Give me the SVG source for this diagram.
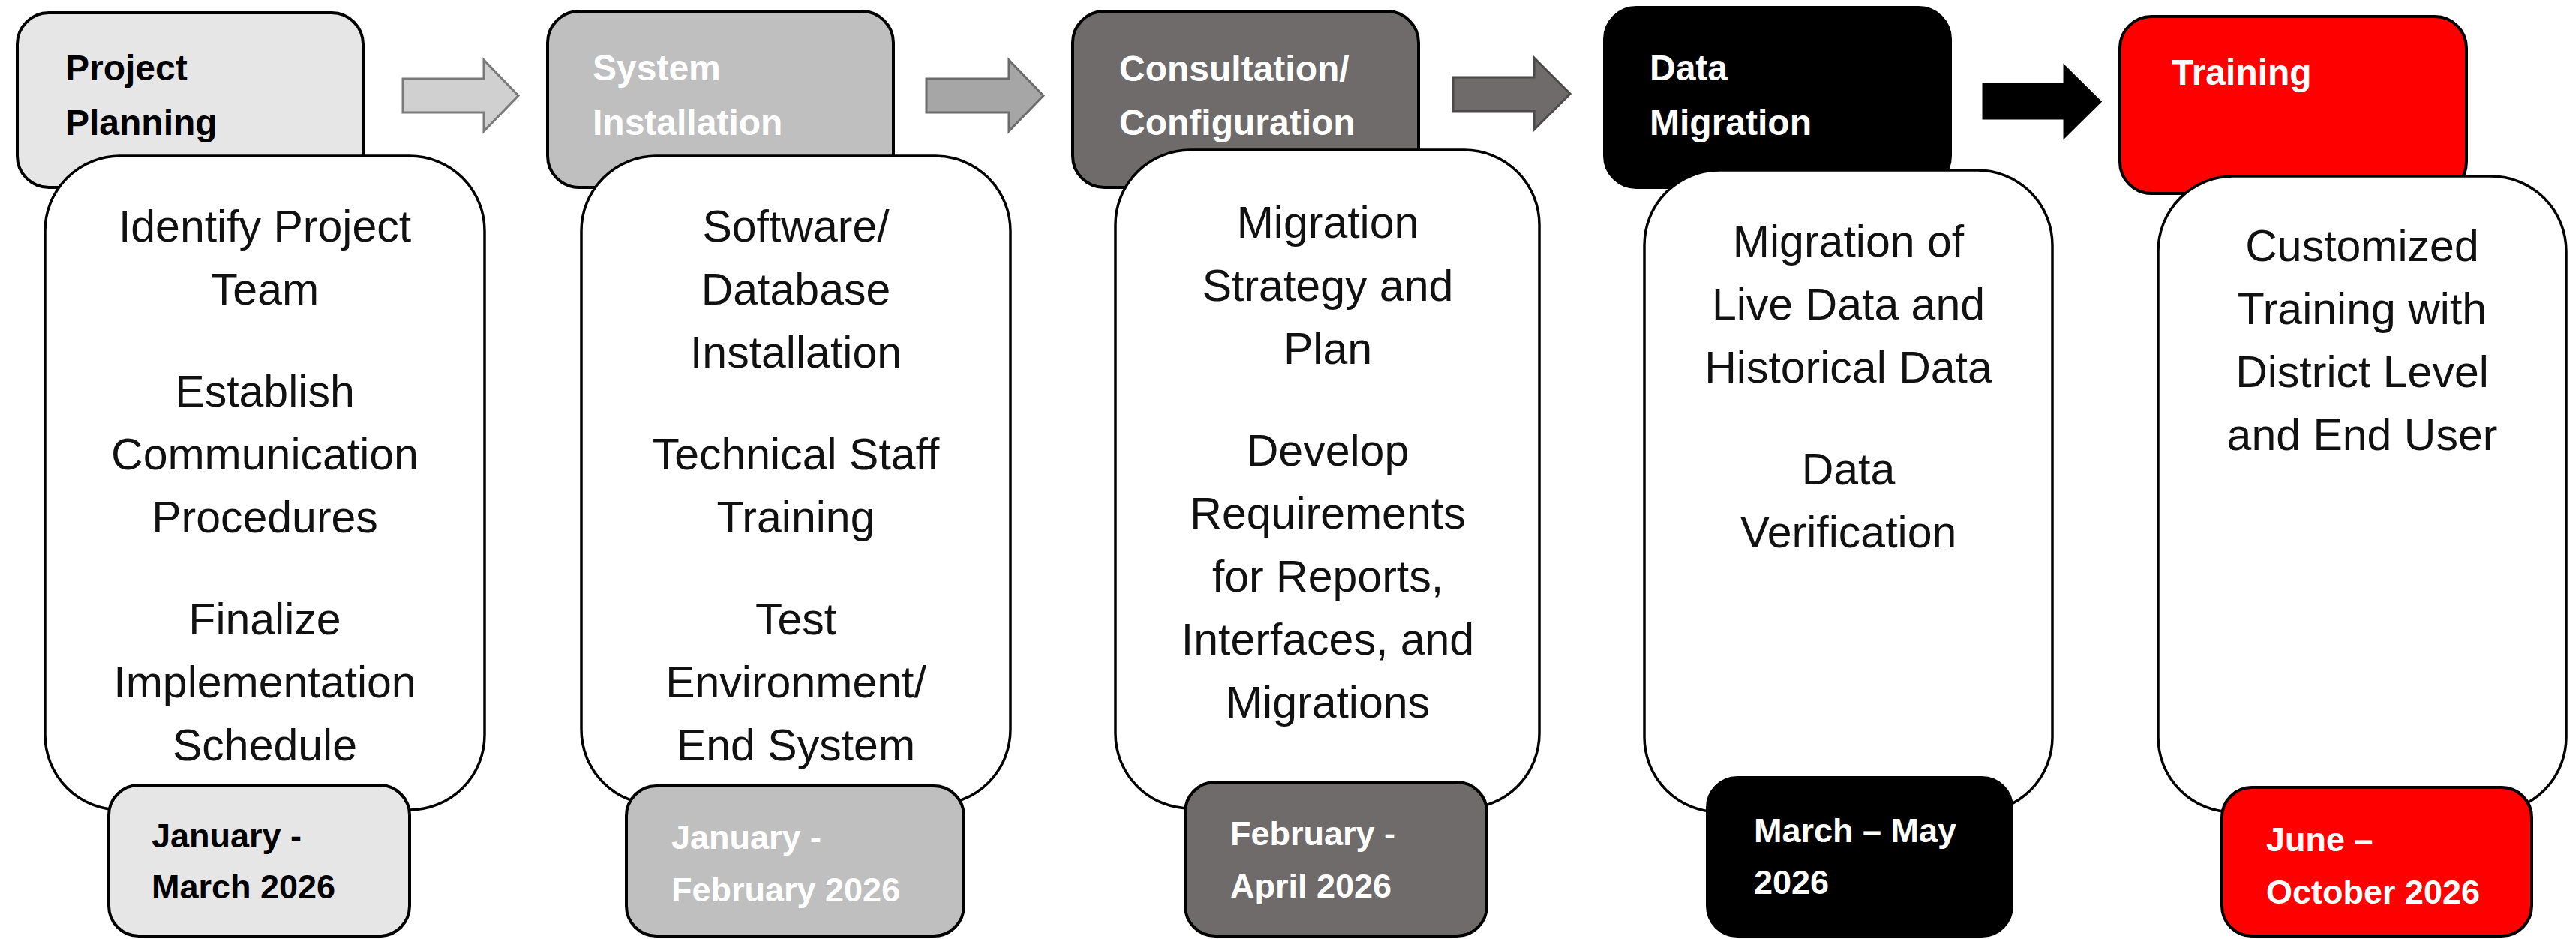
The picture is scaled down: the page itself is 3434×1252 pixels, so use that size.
<svg xmlns="http://www.w3.org/2000/svg" width="3434" height="1252" viewBox="0 0 3434 1252">
<style>
.hdr{stroke:#000;stroke-width:4}
.card{fill:#fff;stroke:#000;stroke-width:3.5}
.date{stroke:#000;stroke-width:4}
.ht{font-family:"Liberation Sans",Arial,sans-serif;font-weight:bold;font-size:48px}
.dt{font-family:"Liberation Sans",Arial,sans-serif;font-weight:bold;font-size:45px}
.bt{font-family:"Liberation Sans",Arial,sans-serif;font-size:59px;fill:#111;text-anchor:middle}
.w{fill:#fff}
.k{fill:#000}
.arr{stroke-width:3;stroke-linejoin:miter}
</style>
<rect width="3434" height="1252" fill="#fff"/>
<g id="connectors">
<polygon class="arr" fill="#d0d0d0" stroke="#7a7a7a" points="537,105 645,105 645,80 691,127.5 645,175 645,150 537,150"/>
<polygon class="arr" fill="#a6a6a6" stroke="#6b6b6b" points="1235,105 1345,105 1345,80 1391,127.5 1345,175 1345,150 1235,150"/>
<polygon class="arr" fill="#6f6b6b" stroke="#4a4a4a" points="1937,103 2045,103 2045,77 2093,125 2045,173 2045,148 1937,148"/>
<polygon class="arr" fill="#000" stroke="#000" points="2644,112 2752,112 2752,88 2800,135.5 2752,183 2752,158 2644,158"/>
</g>
<g id="node1">
<rect class="hdr" x="23" y="17" width="461" height="233" rx="42" fill="#e6e6e6"/>
<text class="ht k" x="87" y="107">Project</text>
<text class="ht k" x="87" y="180">Planning</text>
<rect class="card" x="60" y="208" width="586" height="872" rx="100"/>
<text class="bt" x="353" y="322">Identify Project</text>
<text class="bt" x="353" y="406">Team</text>
<text class="bt" x="353" y="542">Establish</text>
<text class="bt" x="353" y="626">Communication</text>
<text class="bt" x="353" y="710">Procedures</text>
<text class="bt" x="353" y="846">Finalize</text>
<text class="bt" x="353" y="930">Implementation</text>
<text class="bt" x="353" y="1014">Schedule</text>
<rect class="date" x="145" y="1047" width="401" height="201" rx="40" fill="#e6e6e6"/>
<text class="dt k" x="202" y="1130">January -</text>
<text class="dt k" x="202" y="1198">March 2026</text>
</g>
<g id="node2">
<rect class="hdr" x="730" y="15" width="461" height="235" rx="42" fill="#bfbfbf"/>
<text class="ht w" x="790" y="107">System</text>
<text class="ht w" x="790" y="180">Installation</text>
<rect class="card" x="775" y="208" width="572" height="865" rx="100"/>
<text class="bt" x="1061" y="322">Software/</text>
<text class="bt" x="1061" y="406">Database</text>
<text class="bt" x="1061" y="490">Installation</text>
<text class="bt" x="1061" y="626">Technical Staff</text>
<text class="bt" x="1061" y="710">Training</text>
<text class="bt" x="1061" y="846">Test</text>
<text class="bt" x="1061" y="930">Environment/</text>
<text class="bt" x="1061" y="1014">End System</text>
<rect class="date" x="835" y="1048" width="450" height="200" rx="40" fill="#bfbfbf"/>
<text class="dt w" x="895" y="1132">January -</text>
<text class="dt w" x="895" y="1202">February 2026</text>
</g>
<g id="node3">
<rect class="hdr" x="1430" y="15" width="461" height="235" rx="42" fill="#6f6b6b"/>
<text class="ht w" x="1492" y="108">Consultation/</text>
<text class="ht w" x="1492" y="180">Configuration</text>
<rect class="card" x="1487" y="200" width="565" height="878" rx="100"/>
<text class="bt" x="1770" y="317">Migration</text>
<text class="bt" x="1770" y="401">Strategy and</text>
<text class="bt" x="1770" y="485">Plan</text>
<text class="bt" x="1770" y="621">Develop</text>
<text class="bt" x="1770" y="705">Requirements</text>
<text class="bt" x="1770" y="789">for Reports,</text>
<text class="bt" x="1770" y="873">Interfaces, and</text>
<text class="bt" x="1770" y="957">Migrations</text>
<rect class="date" x="1580" y="1043" width="402" height="205" rx="40" fill="#6f6b6b"/>
<text class="dt w" x="1640" y="1127">February -</text>
<text class="dt w" x="1640" y="1197">April 2026</text>
</g>
<g id="node4">
<rect class="hdr" x="2139" y="10" width="461" height="240" rx="42" fill="#000"/>
<text class="ht w" x="2199" y="107">Data</text>
<text class="ht w" x="2199" y="180">Migration</text>
<rect class="card" x="2192" y="227" width="544" height="856" rx="100"/>
<text class="bt" x="2464" y="342">Migration of</text>
<text class="bt" x="2464" y="426">Live Data and</text>
<text class="bt" x="2464" y="510">Historical Data</text>
<text class="bt" x="2464" y="646">Data</text>
<text class="bt" x="2464" y="730">Verification</text>
<rect class="date" x="2276" y="1037" width="406" height="211" rx="40" fill="#000"/>
<text class="dt w" x="2338" y="1123">March – May</text>
<text class="dt w" x="2338" y="1192">2026</text>
</g>
<g id="node5">
<rect class="hdr" x="2826" y="22" width="462" height="236" rx="42" fill="#ff0000"/>
<text class="ht w" x="2895" y="113">Training</text>
<rect class="card" x="2877" y="235" width="544" height="848" rx="100"/>
<text class="bt" x="3149" y="348">Customized</text>
<text class="bt" x="3149" y="432">Training with</text>
<text class="bt" x="3149" y="516">District Level</text>
<text class="bt" x="3149" y="600">and End User</text>
<rect class="date" x="2962" y="1050" width="413" height="198" rx="40" fill="#ff0000"/>
<text class="dt w" x="3021" y="1135">June –</text>
<text class="dt w" x="3021" y="1205">October 2026</text>
</g>
</svg>
